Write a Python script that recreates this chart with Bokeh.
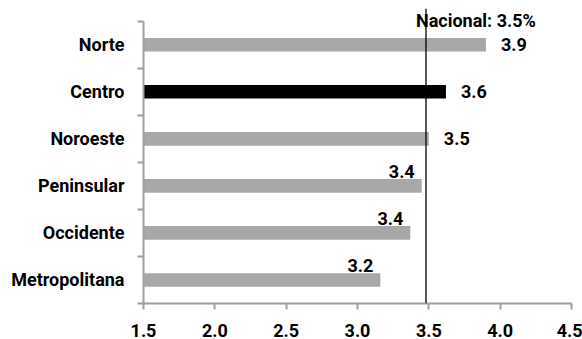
from bokeh.plotting import figure
from bokeh.models import Range1d, FixedTicker, PrintfTickFormatter, Span, Label, ColumnDataSource
from bokeh.core.properties import value
from bokeh.embed import file_html
from bokeh.resources import INLINE

# data (bottom to top)
regions = ["Metropolitana", "Occidente", "Peninsular", "Noroeste", "Centro", "Norte"]
values = [3.16, 3.37, 3.45, 3.50, 3.62, 3.90]
labels = ["3.2", "3.4", "3.4", "3.5", "3.6", "3.9"]
highlight = "Centro"
nacional = 3.48
nacional_label = "Nacional: 3.5%"
x_ticks = [1.5, 2.0, 2.5, 3.0, 3.5, 4.0, 4.5]

FONT = "Roboto"
FS = "18px"
GRAY_BAR = "#a8a8a8"
AXIS_GRAY = "#a0a0a0"

n = len(regions)
pos = [i + 0.5 for i in range(n)]
colors = ["black" if r == highlight else GRAY_BAR for r in regions]

src = ColumnDataSource(dict(y=pos, right=values, color=colors))

p = figure(width=582, height=339, x_range=Range1d(x_ticks[0], x_ticks[-1]),
           y_range=Range1d(0, n + 0.27), output_backend="svg",
           toolbar_location=None, min_border_left=143, min_border_right=11,
           min_border_top=8, min_border_bottom=36)
p.outline_line_color = None
p.xgrid.visible = False
p.ygrid.visible = False

p.hbar(y="y", left=x_ticks[0], right="right", height=0.29, fill_color="color",
       line_color=None, source=src)

p.add_layout(Span(location=nacional, dimension="height", line_color="black",
                  line_width=1.3))

# value labels
right_idx = [i for i, v in enumerate(values) if v >= nacional]
above_idx = [i for i, v in enumerate(values) if v < nacional]
src_r = ColumnDataSource(dict(x=[values[i] for i in right_idx], y=[pos[i] for i in right_idx],
                              t=[labels[i] for i in right_idx]))
src_a = ColumnDataSource(dict(x=[values[i] for i in above_idx], y=[pos[i] for i in above_idx],
                              t=[labels[i] for i in above_idx]))
p.text(x="x", y="y", text="t", source=src_r, x_offset=15, text_align="left",
       text_baseline="middle", text_font=value(FONT), text_font_style="bold",
       text_font_size=FS, text_color="black")
p.text(x="x", y="y", text="t", source=src_a, x_offset=-7, y_offset=-14, text_align="right",
       text_baseline="middle", text_font=value(FONT), text_font_style="bold",
       text_font_size=FS, text_color="black")

p.add_layout(Label(x=nacional, y=n, x_offset=-10, y_offset=1, text=nacional_label,
                   text_baseline="middle", text_align="left", text_font=FONT,
                   text_font_style="bold", text_font_size=FS, text_color="black"))

# y axis
ya = p.yaxis[0]
ya.bounds = (0, n)
ya.ticker = FixedTicker(ticks=pos, minor_ticks=list(range(n + 1)))
ya.major_label_overrides = {pp: r for pp, r in zip(pos, regions)}
ya.major_tick_out = 0
ya.major_tick_in = 0
ya.minor_tick_out = 6
ya.minor_tick_in = 0
ya.minor_tick_line_color = AXIS_GRAY
ya.minor_tick_line_width = 2
ya.axis_line_color = AXIS_GRAY
ya.axis_line_width = 2
ya.major_label_text_font = FONT
ya.major_label_text_font_style = "bold"
ya.major_label_text_font_size = FS
ya.major_label_text_color = "black"
ya.major_label_standoff = 13

xa = p.xaxis[0]
xa.ticker = FixedTicker(ticks=x_ticks, minor_ticks=[])
xa.formatter = PrintfTickFormatter(format="%.1f")
xa.major_tick_out = 6
xa.major_tick_in = 0
xa.major_tick_line_color = AXIS_GRAY
xa.major_tick_line_width = 2
xa.axis_line_color = AXIS_GRAY
xa.axis_line_width = 2
xa.major_label_text_font = FONT
xa.major_label_text_font_style = "bold"
xa.major_label_text_font_size = FS
xa.major_label_text_color = "black"
xa.major_label_standoff = 14

open("out.html", "w").write(file_html(p, INLINE))
